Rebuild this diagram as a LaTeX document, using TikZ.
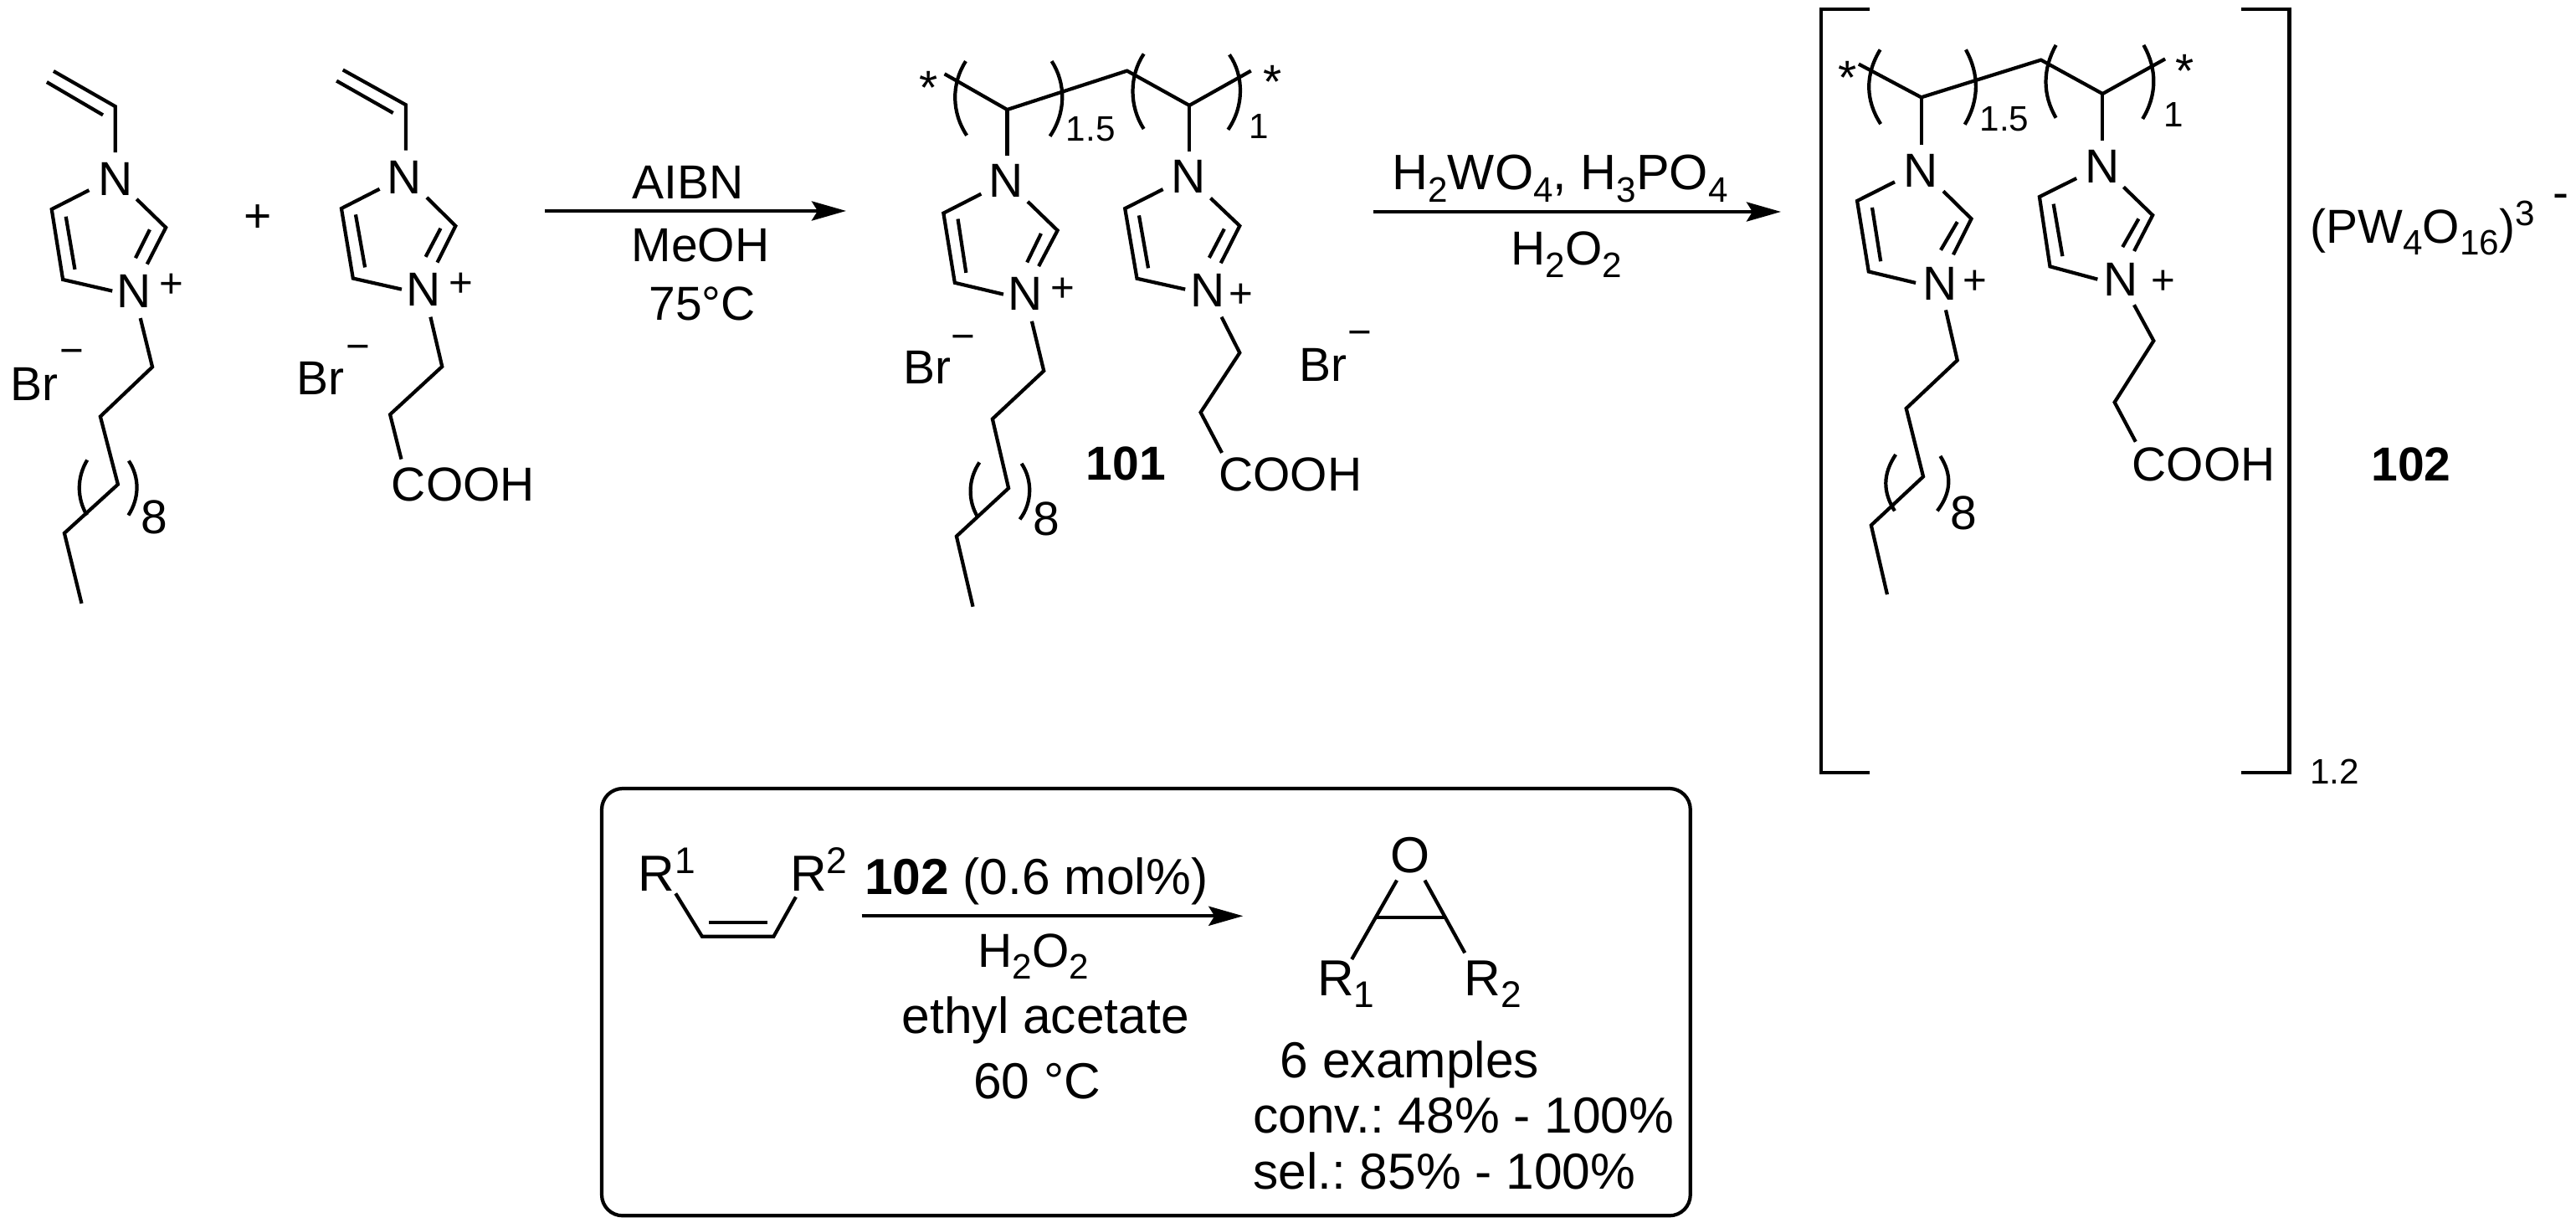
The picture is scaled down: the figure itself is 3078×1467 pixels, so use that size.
\documentclass[tikz,border=0pt]{standalone}
\usepackage{fontspec}
\setmainfont{Liberation Sans}
\usetikzlibrary{arrows.meta}
\newcommand{\chsz}{12}
\newcommand{\chlo}[1]{\raisebox{-4pt}{\fontsize{\chsz}{14}\selectfont #1}}
\newcommand{\chhi}[1]{\raisebox{6pt}{\fontsize{\chsz}{14}\selectfont #1}}
\tikzset{
  bond/.style={line width=1.2pt,line join=miter},
  lab/.style={inner sep=0pt,outer sep=0pt,anchor=base,font=\frenchspacing\fontsize{16.2}{18}\selectfont},
  labw/.style={lab,anchor=base west},
  big/.style={lab,font=\frenchspacing\renewcommand{\chsz}{12.6}\fontsize{17.2}{19}\selectfont},
  bigw/.style={big,anchor=base west},
  sm/.style={lab,font=\fontsize{12}{14}\selectfont},
  chg/.style={inner sep=0pt,anchor=base,yshift=-0.17cm,font=\fontsize{14}{16}\selectfont},
  star/.style={lab,yshift=-0.33cm},
  rxn/.style={line width=1.25pt,-{Stealth[length=0.41cm,width=0.23cm,inset=0.07cm]}},
}
\begin{document}
\begin{tikzpicture}[x=0.01cm,y=-0.01cm]
\useasboundingbox (0,0) rectangle (3078,1467);

% ---------- monomer 1 and 2
\begin{scope}[shift={(0cm,0cm)},x=0.004464cm,y=-0.004847cm]
\draw[bond] (143,175)--(308,262)--(308,375);
\draw[bond] (125,202)--(275,283);
\draw[bond] (238,468)--(138,515)--(168,688)--(300,716);
\draw[bond] (176,533)--(200,663);
\draw[bond] (365,490)--(443,560)--(393,650);
\draw[bond] (400,565)--(362,635);
\draw[bond] (375,783)--(407,903)--(268,1025)--(315,1192)--(172,1312)--(218,1485);
\draw[bond] (233,1132) .. controls (205,1175) and (205,1225) .. (232,1268);
\draw[bond] (344,1134) .. controls (373,1175) and (373,1225) .. (343,1268);
\node[lab] (aN1) at (308,480) {N};
\node[lab] (aN2) at (357,757) {N};
\node[chg] (aP) at (457,697) {+};
\node[lab] (aBr) at (91,985) {Br};
\node[chg] (aM) at (192,863) {−};
\node[lab] (aE) at (413,1313) {8};
\node[lab] (plus) at (688,572) {+};
% monomer 2
\draw[bond] (916,172)--(1084,258)--(1084,370);
\draw[bond] (899,199)--(1050,278);
\draw[bond] (1014,465)--(912,513)--(943,685)--(1073,712);
\draw[bond] (950,528)--(975,658);
\draw[bond] (1140,486)--(1217,556)--(1168,646);
\draw[bond] (1177,562)--(1137,632);
\draw[bond] (1150,780)--(1181,902)--(1042,1020)--(1072,1130);
\node[lab] (bN1) at (1081,476) {N};
\node[lab] (bN2) at (1131,753) {N};
\node[chg] (bP) at (1231,695) {+};
\node[lab] (bBr) at (856,972) {Br};
\node[chg] (bM) at (956,851) {−};
\node[lab] (bA) at (1237,1232) {COOH};
\end{scope}

% ---------- arrow 1
\coordinate (r1s) at (651,252);
\coordinate (r1e) at (1011,252);
\draw[rxn] (r1s)--(r1e);
\node[lab] (r1a) at (822,238) {AIBN};
\node[lab] (r1b) at (837,313) {MeOH};
\node[lab] (r1c) at (839,383) {75°C};

% ---------- polymer 101
\begin{scope}[shift={(10.40cm,-0.40cm)},x=0.004082cm,y=-0.004591cm]
\draw[bond] (215,105)--(398,198)--(748,97)--(930,187)--(1110,97);
\draw[bond] (398,198)--(398,318);
\draw[bond] (930,187)--(930,307);
\draw[bond] (322,417)--(212,467)--(245,648)--(387,678);
\draw[bond] (254,482)--(278,622);
\draw[bond] (458,437)--(545,512)--(490,605);
\draw[bond] (497,520)--(456,595);
\draw[bond] (470,748)--(505,877)--(355,1002)--(402,1182)--(250,1307)--(298,1490);
\draw[bond] (853,405)--(742,455)--(777,637)--(918,665);
\draw[bond] (783,473)--(810,610);
\draw[bond] (992,428)--(1077,500)--(1022,597);
\draw[bond] (1032,508)--(988,583);
\draw[bond] (1024,737)--(1077,830)--(963,985)--(1025,1090);
\draw[bond] (277,72) .. controls (235,130) and (235,205) .. (280,265);
\draw[bond] (528,72) .. controls (570,130) and (570,205) .. (523,267);
\draw[bond] (797,53) .. controls (754,110) and (754,190) .. (797,248);
\draw[bond] (1047,55) .. controls (1090,110) and (1090,190) .. (1043,250);
\draw[bond] (317,1115) .. controls (283,1160) and (283,1215) .. (312,1257);
\draw[bond] (440,1118) .. controls (472,1160) and (472,1220) .. (435,1263);
\node[star] (cS1) at (168,112) {*};
\node[star] (cS2) at (1172,97) {*};
\node[sm] (cX1) at (642,280) {1.5};
\node[sm] (cX2) at (1132,272) {1};
\node[lab] (cN1) at (395,425) {N};
\node[lab] (cN2) at (450,720) {N};
\node[chg] (cP1) at (560,660) {+};
\node[lab] (cN3) at (928,415) {N};
\node[lab] (cN4) at (983,710) {N};
\node[chg] (cP2) at (1082,675) {+};
\node[lab] (cBr1) at (165,910) {Br};
\node[chg] (cM1) at (270,787) {−};
\node[lab] (cBr2) at (1320,905) {Br};
\node[chg] (cM2) at (1427,775) {−};
\node[lab] (cE) at (512,1305) {8};
\node[lab] (c101) at (745,1160) {\textbf{101}};
\node[lab] (cA) at (1225,1190) {COOH};
\end{scope}

% ---------- arrow 2
\coordinate (r2s) at (1641,253);
\coordinate (r2e) at (2128,253);
\draw[rxn] (r2s)--(r2e);
\node[lab,font=\frenchspacing\fontsize{16.9}{18}\selectfont] (r2a) at (1864,227) {H\chlo{2}WO\chlo{4}, H\chlo{3}PO\chlo{4}};
\node[lab] (r2b) at (1872,317) {H\chlo{2}O\chlo{2}};

% ---------- polymer 102
\begin{scope}[shift={(21.40cm,0cm)},x=0.005981cm,y=-0.006124cm]
\draw[bond] (155,18)--(58,18)--(58,1508)--(155,1508);
\draw[bond] (897,18)--(993,18)--(993,1508)--(897,1508);
\draw[bond] (133,125)--(258,190)--(497,117)--(620,183)--(745,115);
\draw[bond] (258,190)--(258,282);
\draw[bond] (620,183)--(620,275);
\draw[bond] (205,355)--(130,392)--(153,530)--(247,552);
\draw[bond] (160,405)--(177,510);
\draw[bond] (302,373)--(358,427)--(322,497);
\draw[bond] (330,433)--(297,488);
\draw[bond] (307,605)--(330,703)--(228,797)--(262,930)--(158,1025)--(190,1160);
\draw[bond] (568,348)--(494,384)--(515,520)--(610,545);
\draw[bond] (522,398)--(540,500);
\draw[bond] (662,365)--(720,420)--(683,490);
\draw[bond] (692,427)--(660,482);
\draw[bond] (683,595)--(722,665)--(644,785)--(686,862);
\draw[bond] (176,97) .. controls (146,145) and (146,195) .. (177,242);
\draw[bond] (347,97) .. controls (374,145) and (374,195) .. (345,243);
\draw[bond] (527,88) .. controls (500,135) and (500,185) .. (527,230);
\draw[bond] (702,88) .. controls (729,135) and (729,185) .. (700,232);
\draw[bond] (207,887) .. controls (181,925) and (181,960) .. (205,997);
\draw[bond] (296,890) .. controls (319,925) and (319,960) .. (290,997);
\node[star] (dS1) at (110,130) {*};
\node[star] (dS2) at (785,117) {*};
\node[sm] (dX1) at (424,255) {1.5};
\node[sm] (dX2) at (762,248) {1};
\node[lab] (dN1) at (257,365) {N};
\node[lab] (dN2) at (295,585) {N};
\node[chg] (dP1) at (366,547) {+};
\node[lab] (dN3) at (620,357) {N};
\node[lab] (dN4) at (657,577) {N};
\node[chg] (dP2) at (741,547) {+};
\node[lab] (dE) at (342,1033) {8};
\node[lab] (dA) at (822,938) {COOH};
\node[labw] (dAn) at (1035,475) {(PW\chlo{4}O\chlo{16})\chhi{3}};
\node[lab] (dC) at (1535,408) {-};
\node[sm] (dX3) at (1083,1530) {1.2};
\node[lab] (d102) at (1236,938) {\textbf{102}};
\end{scope}

% ---------- boxed epoxidation
\node[draw,line width=1.2pt,rounded corners=0.25cm,minimum width=13cm,minimum height=5.1cm,inner sep=0pt,outer sep=0pt,anchor=north west] (box) at (719,942) {};
\begin{scope}[shift={(7cm,-9.2cm)},x=0.008547cm,y=-0.003488cm]
\draw[bond] (125,420)--(162,567)--(262,567)--(293,432);
\draw[bond] (172,518)--(253,518);
\node[bigw] (eR1) at (73,412) {R\chhi{1}};
\node[bigw] (eR2) at (285,412) {R\chhi{2}};
\coordinate (r3s) at (385,497);
\coordinate (r3e) at (918,497);
\draw[rxn] (r3s)--(r3e);
\node[big] (e1) at (629,422) {\textbf{102} (0.6 mol\%)};
\node[lab] (e2) at (625,672) {H\chlo{2}O\chlo{2}};
\node[big] (e3) at (642,897) {ethyl acetate};
\node[big] (e4) at (630,1120) {60 °C};
\node[big] (eO) at (1152,350) {O};
\draw[bond] (1133,375)--(1070,645);
\draw[bond] (1172,375)--(1228,623);
\draw[bond] (1105,503)--(1200,503);
\node[bigw] (eR3) at (1022,770) {R\chlo{1}};
\node[bigw] (eR4) at (1227,770) {R\chlo{2}};
\node[big] (e5) at (1151,1050) {6 examples};
\node[bigw] (e6) at (932,1238) {conv.: 48\% - 100\%};
\node[bigw] (e7) at (932,1430) {sel.: 85\% - 100\%};
\end{scope}
\end{tikzpicture}
\end{document}
